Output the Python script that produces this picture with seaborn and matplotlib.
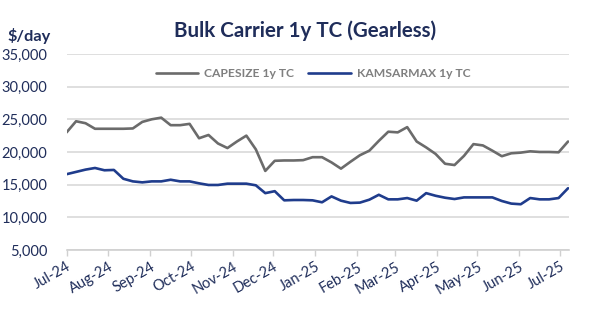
import matplotlib
matplotlib.use("Agg")
import matplotlib.pyplot as plt
import matplotlib.dates as mdates
from matplotlib.ticker import FuncFormatter, MultipleLocator
import seaborn as sns
import pandas as pd

# Weekly 1-year time-charter assessments, $/day
week_start = "2024-07-01"
n_weeks = 54
capesize_1y = [
    23000, 24700, 24400, 23550, 23550, 23550, 23550, 23600, 24600, 25000,
    25250, 24100, 24100, 24300, 22100, 22600, 21300, 20600, 21600, 22500,
    20400, 17100, 18650, 18700, 18700, 18750, 19200, 19200, 18400, 17450,
    18500, 19500, 20200, 21700, 23100, 23000, 23800, 21600, 20700, 19700,
    18200, 18000, 19400, 21200, 21000, 20200, 19350, 19800, 19900, 20100,
    20000, 20000, 19950, 21600,
]
kamsarmax_1y = [
    16600, 16950, 17300, 17550, 17200, 17250, 15900, 15500, 15350, 15500,
    15500, 15750, 15500, 15500, 15200, 14950, 14950, 15150, 15150, 15150,
    14900, 13700, 14000, 12600, 12650, 12650, 12600, 12300, 13200, 12550,
    12200, 12250, 12700, 13450, 12750, 12750, 12950, 12550, 13700, 13300,
    13000, 12800, 13050, 13050, 13050, 13050, 12500, 12100, 12000, 12950,
    12750, 12750, 12950, 14450,
]
series_names = ["CAPESIZE 1y TC", "KAMSARMAX 1y TC"]
series_colors = ["#6b6b6b", "#1f3c8c"]

dates = pd.date_range(week_start, periods=n_weeks, freq="7D")
df = pd.concat([
    pd.DataFrame({"date": dates, "rate": capesize_1y, "series": series_names[0]}),
    pd.DataFrame({"date": dates, "rate": kamsarmax_1y, "series": series_names[1]}),
])

sns.set_theme(style="white")
plt.rcParams["font.family"] = ["Lato", "DejaVu Sans"]
plt.rcParams["lines.solid_joinstyle"] = "round"
plt.rcParams["lines.solid_capstyle"] = "round"

navy = "#1f2d5a"
fig = plt.figure(figsize=(6.0, 3.23), dpi=100)
ax = fig.add_axes([0.111, 0.226, 0.838, 0.607])

sns.lineplot(data=df, x="date", y="rate", hue="series", hue_order=series_names,
             palette=series_colors, linewidth=1.9, ax=ax, legend=True)

ax.set_ylim(5000, 35000)
ax.yaxis.set_major_locator(MultipleLocator(5000))
ax.yaxis.set_major_formatter(FuncFormatter(lambda v, p: f"{int(v):,}"))
ax.set_xlim(pd.Timestamp("2024-07-01"), pd.Timestamp("2025-07-08"))
ax.xaxis.set_major_locator(mdates.MonthLocator())
ax.xaxis.set_major_formatter(mdates.DateFormatter("%b-%y"))

ax.grid(axis="y", color="#d9d9d9", linewidth=1.2)
ax.grid(axis="x", visible=False)
ax.set_axisbelow(True)
for side in ["left", "right", "top"]:
    ax.spines[side].set_visible(False)
ax.spines["bottom"].set_color("#d0d0d0")
ax.spines["bottom"].set_linewidth(1.2)

ax.tick_params(axis="y", length=0, pad=14, labelsize=10.5, labelcolor=navy)
ax.tick_params(axis="x", direction="out", length=4, width=1, color="#d0d0d0",
               pad=3, labelsize=10.5, labelcolor=navy, bottom=True)
for lbl in ax.get_xticklabels():
    lbl.set_rotation(30)
    lbl.set_ha("right")
    lbl.set_rotation_mode("anchor")

ax.set_xlabel("")
ax.set_ylabel("")

leg = ax.legend(loc="upper center", bbox_to_anchor=(0.49, 0.985), ncol=2,
                frameon=False, fontsize=8.7, handlelength=3.5, columnspacing=1.2,
                handletextpad=0.5)
for t in leg.get_texts():
    t.set_color("#7f7f7f")
    t.set_fontweight("bold")

fig.text(0.508, 0.905, "Bulk Carrier 1y TC (Gearless)", ha="center", va="center",
         fontsize=14.8, fontweight="bold", color=navy)
fig.text(0.013, 0.89, "$/day", ha="left", va="center", fontsize=11.8,
         fontweight="bold", color=navy)

fig.savefig("out.png", dpi=100)
